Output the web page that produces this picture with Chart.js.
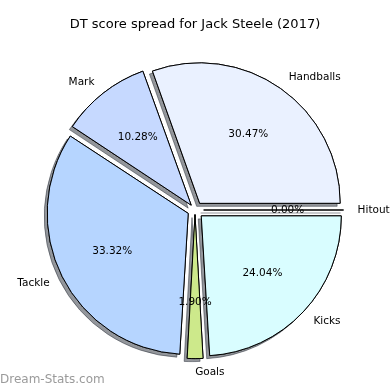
<!DOCTYPE html>
<html>
<head>
<meta charset="utf-8">
<script src="https://cdn.jsdelivr.net/npm/chart.js@4/dist/chart.umd.min.js"></script>
<style>
  html, body { margin: 0; padding: 0; background: #fff; }
  #pie { display: block; }
</style>
</head>
<body>
<canvas id="pie" width="390" height="390"></canvas>
<script>
// Slices in matplotlib order (counter-clockwise from 3 o'clock)
const categories = ['Handballs', 'Mark', 'Tackle', 'Goals', 'Kicks', 'Hitout'];
const percents = [30.47, 10.28, 33.32, 1.90, 24.04, 0.00];
const sliceColors = ['#eaf1ff', '#c6d9ff', '#b6d5ff', '#cde98b', '#d9fdff', '#ffffff'];
const titleText = 'DT score spread for Jack Steele (2017)';
const watermark = 'Dream-Stats.com';

// Chart.js draws clockwise, so flip the order
const labels = categories.slice().reverse();
const values = percents.slice().reverse();
const colors = sliceColors.slice().reverse();
const total = values.reduce((a, b) => a + b, 0);

const EXPLODE = 8.6;   // px each wedge is pushed out
const RADIUS = 140;
const FONT = '"DejaVu Sans", sans-serif';

// Chart.js moves an arc by offset/4 * (1 + fix); undo that so all move EXPLODE px
function arcOffset(ctx) {
  const circ = values[ctx.dataIndex] / total * Math.PI * 2;
  const fix = 1 - Math.sin(Math.min(Math.PI, circ));
  return 4 * EXPLODE / (1 + fix);
}

function zeroWedge(ctx, arc) {
  const a = arc.startAngle;
  const x0 = arc.x + Math.cos(a) * EXPLODE, y0 = arc.y + Math.sin(a) * EXPLODE;
  ctx.beginPath();
  ctx.moveTo(x0, y0);
  ctx.lineTo(x0 + Math.cos(a) * arc.outerRadius, y0 + Math.sin(a) * arc.outerRadius);
  ctx.lineWidth = 1;
  ctx.strokeStyle = '#000';
  ctx.stroke();
}

const shadowPlugin = {
  id: 'shadow',
  beforeDatasetsDraw(chart) {
    const ctx = chart.ctx;
    const meta = chart.getDatasetMeta(0);
    ctx.save();
    ctx.shadowColor = 'rgba(40,45,55,0.5)';
    ctx.shadowOffsetX = -3;
    ctx.shadowOffsetY = 3;
    ctx.shadowBlur = 0;
    meta.data.forEach((arc, i) => {
      if (values[i] === 0) zeroWedge(ctx, arc);
      else arc.draw(ctx);
    });
    ctx.restore();
  }
};

const labelPlugin = {
  id: 'pieLabels',
  afterDatasetsDraw(chart) {
    const ctx = chart.ctx;
    const meta = chart.getDatasetMeta(0);
    ctx.save();
    ctx.fillStyle = '#000';
    ctx.font = '10.5px ' + FONT;
    ctx.textBaseline = 'middle';
    meta.data.forEach((arc, i) => {
      if (values[i] === 0) zeroWedge(ctx, arc);
      const mid = (arc.startAngle + arc.endAngle) / 2;
      const cx = arc.x + Math.cos(mid) * EXPLODE;
      const cy = arc.y + Math.sin(mid) * EXPLODE;
      const r = arc.outerRadius;
      // category label
      const lx = cx + Math.cos(mid) * r * 1.1;
      const ly = cy + Math.sin(mid) * r * 1.1;
      ctx.textAlign = lx > arc.x ? 'left' : 'right';
      ctx.fillText(labels[i], lx, ly);
      // percentage
      ctx.textAlign = 'center';
      ctx.fillText(values[i].toFixed(2) + '%', cx + Math.cos(mid) * r * 0.6, cy + Math.sin(mid) * r * 0.6);
    });
    // title
    ctx.font = '13px ' + FONT;
    ctx.textAlign = 'center';
    ctx.fillText(titleText, chart.width / 2, 25);
    // watermark
    ctx.font = '12px ' + FONT;
    ctx.textAlign = 'left';
    ctx.fillStyle = 'rgba(120,120,120,0.75)';
    ctx.fillText(watermark, 0, 380);
    ctx.restore();
  }
};

new Chart(document.getElementById('pie'), {
  type: 'pie',
  data: {
    labels,
    datasets: [{
      data: values,
      backgroundColor: colors,
      borderColor: '#000',
      borderWidth: 1,
      offset: arcOffset,
      hoverOffset: 0,
    }]
  },
  options: {
    responsive: false,
    animation: false,
    rotation: 90,
    radius: RADIUS,
    layout: { padding: { top: 30 } },
    events: [],
    plugins: {
      legend: { display: false },
      tooltip: { enabled: false },
      title: { display: false }
    }
  },
  plugins: [shadowPlugin, labelPlugin]
});
</script>
</body>
</html>
